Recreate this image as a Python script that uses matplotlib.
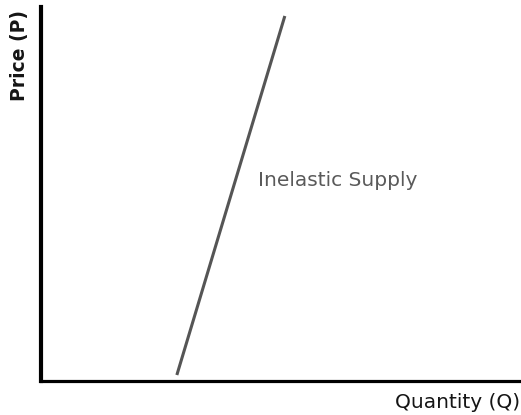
import matplotlib
matplotlib.use("Agg")
import matplotlib.pyplot as plt

# supply curve end points (quantity, price) on a 0-10 scale
supply_q = [2.83, 5.08]
supply_p = [0.16, 9.76]
supply_label = "Inelastic Supply"
x_label = "Quantity (Q)"
y_label = "Price (P)"

fig = plt.figure(figsize=(5.21, 4.15), dpi=100)
ax = fig.add_axes([41 / 521, 34 / 415, 480 / 521, 374 / 415])
ax.plot(supply_q, supply_p, color="#555555", lw=2.2, solid_capstyle="butt")
ax.set_xlim(0, 10)
ax.set_ylim(0, 10)

ax.spines["top"].set_visible(False)
ax.spines["right"].set_visible(False)
ax.spines["left"].set_linewidth(3)
ax.spines["bottom"].set_linewidth(2.3)
ax.set_xticks([])
ax.set_yticks([])

ax.text(4.52, 5.35, supply_label, fontsize=14.5, color="#5a5a5a", va="center", ha="left")
fig.text(0.998, 0.029, x_label, fontsize=14.5, color="#151515", ha="right", va="center")
fig.text(0.038, 0.867, y_label, fontsize=13.5, fontweight="bold", color="#151515",
         rotation=90, ha="center", va="center")

fig.savefig("out.png", dpi=100)
